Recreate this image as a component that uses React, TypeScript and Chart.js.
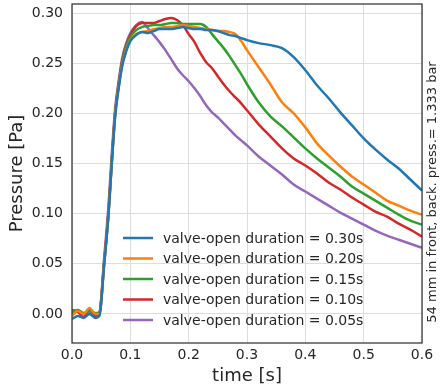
import React, { useEffect, useRef } from "react";
import { Chart, registerables } from "chart.js";

Chart.register(...registerables);

const timeS = [0, 0.01, 0.02, 0.03, 0.04, 0.047, 0.055, 0.0625, 0.068, 0.074, 0.08, 0.086, 0.093,
  0.1, 0.11, 0.12, 0.13, 0.14, 0.15, 0.16, 0.17, 0.18, 0.19, 0.2, 0.21, 0.22, 0.23, 0.24, 0.25, 0.26, 0.27, 0.28, 0.29, 0.3,
  0.32, 0.34, 0.36, 0.38, 0.4, 0.42, 0.44, 0.46, 0.48, 0.5, 0.52, 0.54, 0.56, 0.58, 0.6];

const dur030 = [-0.005, -0.002, -0.004, 0.000, -0.004, -0.002, 0.048, 0.098, 0.148, 0.197, 0.225, 0.247, 0.262,
  0.272, 0.278, 0.281, 0.280, 0.282, 0.284, 0.284, 0.284, 0.285, 0.286, 0.285, 0.284, 0.284, 0.283, 0.283, 0.282, 0.280, 0.278, 0.277, 0.275, 0.273,
  0.270, 0.268, 0.265, 0.256, 0.243, 0.228, 0.215, 0.201, 0.188, 0.175, 0.164, 0.154, 0.145, 0.134, 0.123];

const dur020 = [-0.002, 0.003, 0.000, 0.006, 0.000, 0.000, 0.049, 0.099, 0.149, 0.198, 0.226, 0.248, 0.263,
  0.273, 0.279, 0.281, 0.282, 0.284, 0.285, 0.286, 0.286, 0.287, 0.288, 0.287, 0.286, 0.285, 0.284, 0.283, 0.282, 0.282, 0.281, 0.279, 0.272, 0.263,
  0.246, 0.229, 0.211, 0.200, 0.186, 0.170, 0.158, 0.147, 0.137, 0.129, 0.121, 0.113, 0.108, 0.103, 0.099];

const dur015 = [0.002, 0.004, 0.001, 0.003, 0.001, 0.001, 0.050, 0.100, 0.150, 0.200, 0.228, 0.250, 0.266,
  0.276, 0.283, 0.286, 0.287, 0.288, 0.288, 0.289, 0.290, 0.290, 0.289, 0.289, 0.289, 0.289, 0.286, 0.279, 0.272, 0.265, 0.257, 0.248, 0.239, 0.229,
  0.211, 0.197, 0.187, 0.176, 0.165, 0.155, 0.146, 0.137, 0.127, 0.120, 0.113, 0.106, 0.099, 0.093, 0.089];

const dur010 = [0.004, 0.002, -0.003, 0.005, -0.002, 0.000, 0.051, 0.101, 0.151, 0.201, 0.230, 0.252, 0.268,
  0.278, 0.287, 0.290, 0.290, 0.290, 0.292, 0.294, 0.295, 0.293, 0.288, 0.279, 0.271, 0.260, 0.251, 0.245, 0.237, 0.229, 0.222, 0.216, 0.210, 0.203,
  0.189, 0.177, 0.165, 0.155, 0.148, 0.140, 0.131, 0.124, 0.116, 0.109, 0.102, 0.097, 0.090, 0.084, 0.077];

const dur005 = [0.000, 0.003, 0.000, 0.002, 0.000, 0.002, 0.055, 0.108, 0.158, 0.205, 0.232, 0.255, 0.270,
  0.280, 0.288, 0.291, 0.285, 0.278, 0.271, 0.263, 0.254, 0.245, 0.238, 0.232, 0.225, 0.217, 0.208, 0.201, 0.196, 0.190, 0.184, 0.178, 0.173, 0.168,
  0.157, 0.148, 0.139, 0.129, 0.122, 0.115, 0.108, 0.101, 0.095, 0.089, 0.083, 0.078, 0.074, 0.070, 0.066];

const seriesLabels = [
  "valve-open duration = 0.30s",
  "valve-open duration = 0.20s",
  "valve-open duration = 0.15s",
  "valve-open duration = 0.10s",
  "valve-open duration = 0.05s",
];
const seriesValues = [dur030, dur020, dur015, dur010, dur005];
const seriesColors = ["#1f77b4", "#ff7f0e", "#2ca02c", "#d62728", "#9467bd"];

const xTicks = [0, 0.1, 0.2, 0.3, 0.4, 0.5, 0.6];
const yTicks = [0, 0.05, 0.1, 0.15, 0.2, 0.25, 0.3];

const sideNote = "54 mm in front, back. press.= 1.333 bar";
const FONT = '"DejaVu Sans", sans-serif';
const TEXT = "#262626";

const framePlugin = {
  id: "frame",
  afterDatasetsDraw(chart: any) {
    const { ctx, chartArea: a } = chart;
    ctx.save();
    ctx.strokeStyle = "#333333";
    ctx.lineWidth = 1.25;
    ctx.strokeRect(a.left, a.top, a.right - a.left, a.bottom - a.top);
    ctx.restore();
  },
};

const legendPlugin = {
  id: "innerLegend",
  afterDraw(chart: any) {
    const { ctx } = chart;
    ctx.save();
    ctx.font = `14px ${FONT}`;
    ctx.textBaseline = "middle";
    ctx.textAlign = "left";
    chart.data.datasets.forEach((ds: any, i: number) => {
      const y = 238 + i * 20.5;
      ctx.strokeStyle = ds.borderColor;
      ctx.lineWidth = 2.5;
      ctx.beginPath();
      ctx.moveTo(123, y);
      ctx.lineTo(153, y);
      ctx.stroke();
      ctx.fillStyle = TEXT;
      ctx.fillText(ds.label, 163, y + 1);
    });
    ctx.restore();
  },
};

const sideTextPlugin = {
  id: "sideText",
  afterDraw(chart: any) {
    const { ctx } = chart;
    ctx.save();
    ctx.translate(433, 192);
    ctx.rotate(-Math.PI / 2);
    ctx.font = `13px ${FONT}`;
    ctx.fillStyle = TEXT;
    ctx.textAlign = "center";
    ctx.textBaseline = "middle";
    ctx.fillText(sideNote, 0, 0);
    ctx.restore();
  },
};

export default function App() {
  const ref = useRef<HTMLCanvasElement | null>(null);

  useEffect(() => {
    if (!ref.current) return;
    const chart = new Chart(ref.current, {
      type: "line",
      data: {
        datasets: seriesValues.map((vals, i) => ({
          label: seriesLabels[i],
          data: timeS.map((t, j) => ({ x: t, y: vals[j] })),
          borderColor: seriesColors[i],
          backgroundColor: seriesColors[i],
          borderWidth: 2.5,
          pointRadius: 0,
          cubicInterpolationMode: "monotone" as const,
          fill: false,
        })),
      },
      options: {
        responsive: false,
        animation: false,
        devicePixelRatio: 1,
        layout: { padding: { top: 4, right: 22, left: 0, bottom: 0 } },
        plugins: {
          legend: { display: false },
          tooltip: { enabled: false },
        },
        scales: {
          x: {
            type: "linear",
            min: 0,
            max: 0.6,
            afterFit: (s: any) => { s.height = 49; s.paddingLeft = 0; s.paddingRight = 0; },
            afterBuildTicks: (s: any) => { s.ticks = xTicks.map((v) => ({ value: v })); },
            grid: { color: "#dddddd", lineWidth: 1, drawTicks: false },
            border: { display: false },
            ticks: {
              padding: 4,
              color: TEXT,
              font: { family: FONT, size: 14 },
              callback: (v: any) => Number(v).toFixed(1),
              maxRotation: 0,
            },
            title: {
              display: true,
              text: "time [s]",
              color: TEXT,
              font: { family: FONT, size: 18 },
              padding: { top: 0, bottom: 5 },
            },
          },
          y: {
            type: "linear",
            min: -0.029,
            max: 0.309,
            afterFit: (s: any) => { s.width = 72; s.paddingTop = 0; s.paddingBottom = 0; },
            afterBuildTicks: (s: any) => { s.ticks = yTicks.map((v) => ({ value: v })); },
            grid: { color: "#dddddd", lineWidth: 1, drawTicks: false },
            border: { display: false },
            ticks: {
              padding: 9,
              color: TEXT,
              font: { family: FONT, size: 14 },
              callback: (v: any) => Number(v).toFixed(2),
            },
            title: {
              display: true,
              text: "Pressure [Pa]",
              color: TEXT,
              font: { family: FONT, size: 18 },
              padding: { top: 7, bottom: 0 },
            },
          },
        },
      },
      plugins: [framePlugin, legendPlugin, sideTextPlugin],
    });
    return () => chart.destroy();
  }, []);

  return (
    <div style={{ position: "absolute", left: 0, top: 0, width: 444, height: 392, background: "#ffffff" }}>
      <canvas ref={ref} width={444} height={392} style={{ width: 444, height: 392, display: "block" }} />
    </div>
  );
}
